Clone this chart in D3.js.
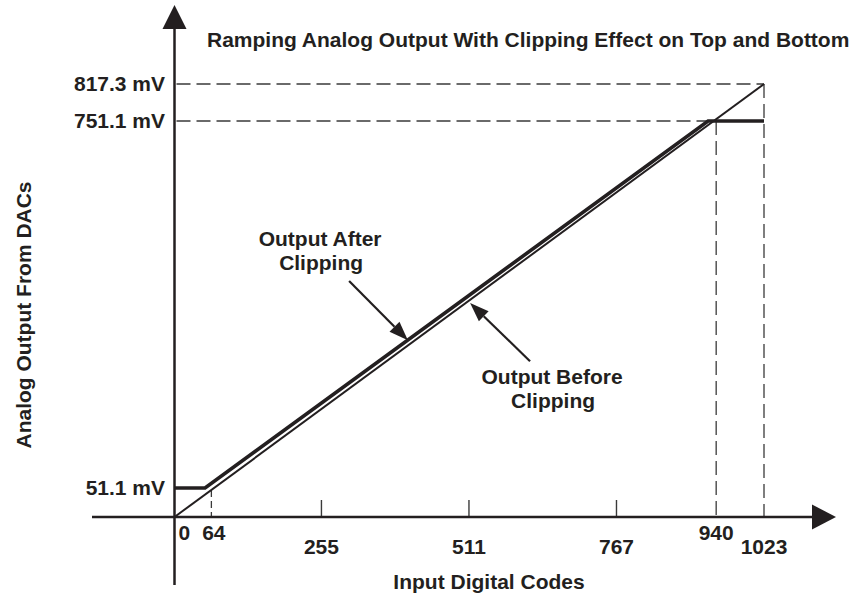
<!DOCTYPE html>
<html>
<head>
<meta charset="utf-8">
<script src="https://cdn.jsdelivr.net/npm/d3@7/dist/d3.min.js"></script>
<style>
  html, body { margin: 0; padding: 0; background: #fff; }
  svg { display: block; }
  text { font-family: "Liberation Sans", Arial, Helvetica, sans-serif; font-weight: bold; fill: #231f20; }
</style>
</head>
<body>
<svg id="chart" width="859" height="598"></svg>
<script>
// ---------- data ----------
const titleText = "Ramping Analog Output With Clipping Effect on Top and Bottom";
const xAxisTitle = "Input Digital Codes";
const yAxisTitle = "Analog Output From DACs";

const codeDomain = [0, 1023];
const xTickValues = [255, 511, 767];
const xLabelCodes = [0, 64, 255, 511, 767, 940, 1023];
const xLabelTexts = ["0", "64", "255", "511", "767", "940", "1023"];

const yRefValues = [51.1, 751.1, 817.3];
const yRefLabels = ["51.1 mV", "751.1 mV", "817.3 mV"];

// clip points (code, mV)
const clipLow = [64, 51.1];
const clipHigh = [940, 751.1];
const fullScale = [1023, 817.3];

// output before clipping (ideal ramp)
const beforeClipping = [[0, 0], [1023, 817.3]];
// output after clipping (drawn just above the ideal ramp)
const afterClipping = [[0, 51.1], [53, 51.1], [926, 751.1], [1023, 751.1]];

// annotations: [tailCode, tailmV, tipCode, tipmV]
const afterArrow = [303, 446, 405, 333];
const beforeArrow = [617, 293, 513, 404];
const afterLabel = ["Output After", "Clipping"];
const beforeLabel = ["Output Before", "Clipping"];

// ---------- drawing ----------
const svg = d3.select("#chart");
const ink = "#231f20";
const FS = 20, SX = 1.05;

const x = d3.scaleLinear().domain(codeDomain).range([174.5, 764]);
const y = d3.scaleLinear().domain([0, 51.1, 751.1, 817.3]).range([517, 488, 121, 84]);

function label(g, str, px, py, anchor, rot) {
  const t = g.append("text")
    .attr("transform", `translate(${px},${py})` + (rot ? ` rotate(${rot})` : "") + ` scale(${SX},1)`)
    .attr("text-anchor", anchor || "start")
    .attr("font-size", FS)
    .text(str);
  return t;
}

// dashed reference lines
const dash = svg.append("g").attr("stroke", "#3a3a3a").attr("stroke-width", 1.3)
  .attr("stroke-dasharray", "14,6").attr("fill", "none");
dash.append("line").attr("x1", x(0) + 2).attr("x2", x(fullScale[0])).attr("y1", y(fullScale[1])).attr("y2", y(fullScale[1]));
dash.append("line").attr("x1", x(0) + 2).attr("x2", x(clipHigh[0])).attr("y1", y(clipHigh[1])).attr("y2", y(clipHigh[1]));
dash.append("line").attr("x1", x(fullScale[0])).attr("x2", x(fullScale[0])).attr("y1", y(fullScale[1])).attr("y2", y(0));
dash.append("line").attr("x1", x(clipHigh[0])).attr("x2", x(clipHigh[0])).attr("y1", y(clipHigh[1])).attr("y2", y(0));
dash.append("line").attr("x1", x(clipLow[0])).attr("x2", x(clipLow[0])).attr("y1", y(clipLow[1]) + 2).attr("y2", y(0))
  .attr("stroke-dasharray", "7,4");

// x ticks
svg.append("g").selectAll("line").data(xTickValues).join("line")
  .attr("x1", d => x(d)).attr("x2", d => x(d))
  .attr("y1", y(0) - 17).attr("y2", y(0))
  .attr("stroke", "#3a3a3a").attr("stroke-width", 1.4);

// lines
const line = d3.line().x(d => x(d[0])).y(d => y(d[1]));
svg.append("path").datum(beforeClipping).attr("d", line)
  .attr("fill", "none").attr("stroke", ink).attr("stroke-width", 2);
svg.append("path").datum(afterClipping).attr("d", line)
  .attr("fill", "none").attr("stroke", ink).attr("stroke-width", 3.6).attr("stroke-linejoin", "miter");

// axes
const axes = svg.append("g").attr("stroke", ink).attr("stroke-width", 2.5);
axes.append("line").attr("x1", 92).attr("x2", 814).attr("y1", y(0)).attr("y2", y(0));
axes.append("line").attr("x1", x(0)).attr("x2", x(0)).attr("y1", 585).attr("y2", 27);
svg.append("path").attr("fill", ink)
  .attr("d", `M${x(0)},5 L${x(0) + 12},29 L${x(0) - 12},29 Z`);
svg.append("path").attr("fill", ink)
  .attr("d", `M836,${y(0)} L812,${y(0) - 12.5} L812,${y(0) + 12.5} Z`);

// y reference labels
const yl = svg.append("g");
yRefValues.forEach((v, i) => label(yl, yRefLabels[i], 165, y(v) + 7, "end"));

// x labels
const xl = svg.append("g");
const lowRow = new Set([255, 511, 767, 1023]);
xLabelCodes.forEach((c, i) => {
  const by = lowRow.has(c) ? 554 : 540;
  if (c === 0) label(xl, xLabelTexts[i], x(c) + 4, by, "start");
  else if (c === 64) label(xl, xLabelTexts[i], x(c) + 2.5, by, "middle");
  else label(xl, xLabelTexts[i], x(c), by, "middle");
});

// titles
label(svg, titleText, 207, 47, "start");
label(svg, xAxisTitle, 489, 589, "middle");
label(svg, yAxisTitle, 31, 315, "middle", -90);

// annotation arrows
function arrow(a) {
  const x1 = x(a[0]), y1 = y(a[1]), x2 = x(a[2]), y2 = y(a[3]);
  const ang = Math.atan2(y2 - y1, x2 - x1);
  const L = 19, W = 7;
  const bx = x2 - L * Math.cos(ang), by = y2 - L * Math.sin(ang);
  svg.append("line").attr("x1", x1).attr("y1", y1).attr("x2", bx).attr("y2", by)
    .attr("stroke", ink).attr("stroke-width", 2.2);
  const px = -Math.sin(ang) * W, py = Math.cos(ang) * W;
  svg.append("path").attr("fill", ink)
    .attr("d", `M${x2},${y2} L${bx + px},${by + py} L${bx - px},${by - py} Z`);
  return [x1, y1];
}
const ta = arrow(afterArrow);
label(svg, afterLabel[0], ta[0] - 29, ta[1] - 35, "middle");
label(svg, afterLabel[1], ta[0] - 28, ta[1] - 11, "middle");
const tb = arrow(beforeArrow);
label(svg, beforeLabel[0], tb[0] + 22, tb[1] + 23, "middle");
label(svg, beforeLabel[1], tb[0] + 23, tb[1] + 47, "middle");
</script>
</body>
</html>
